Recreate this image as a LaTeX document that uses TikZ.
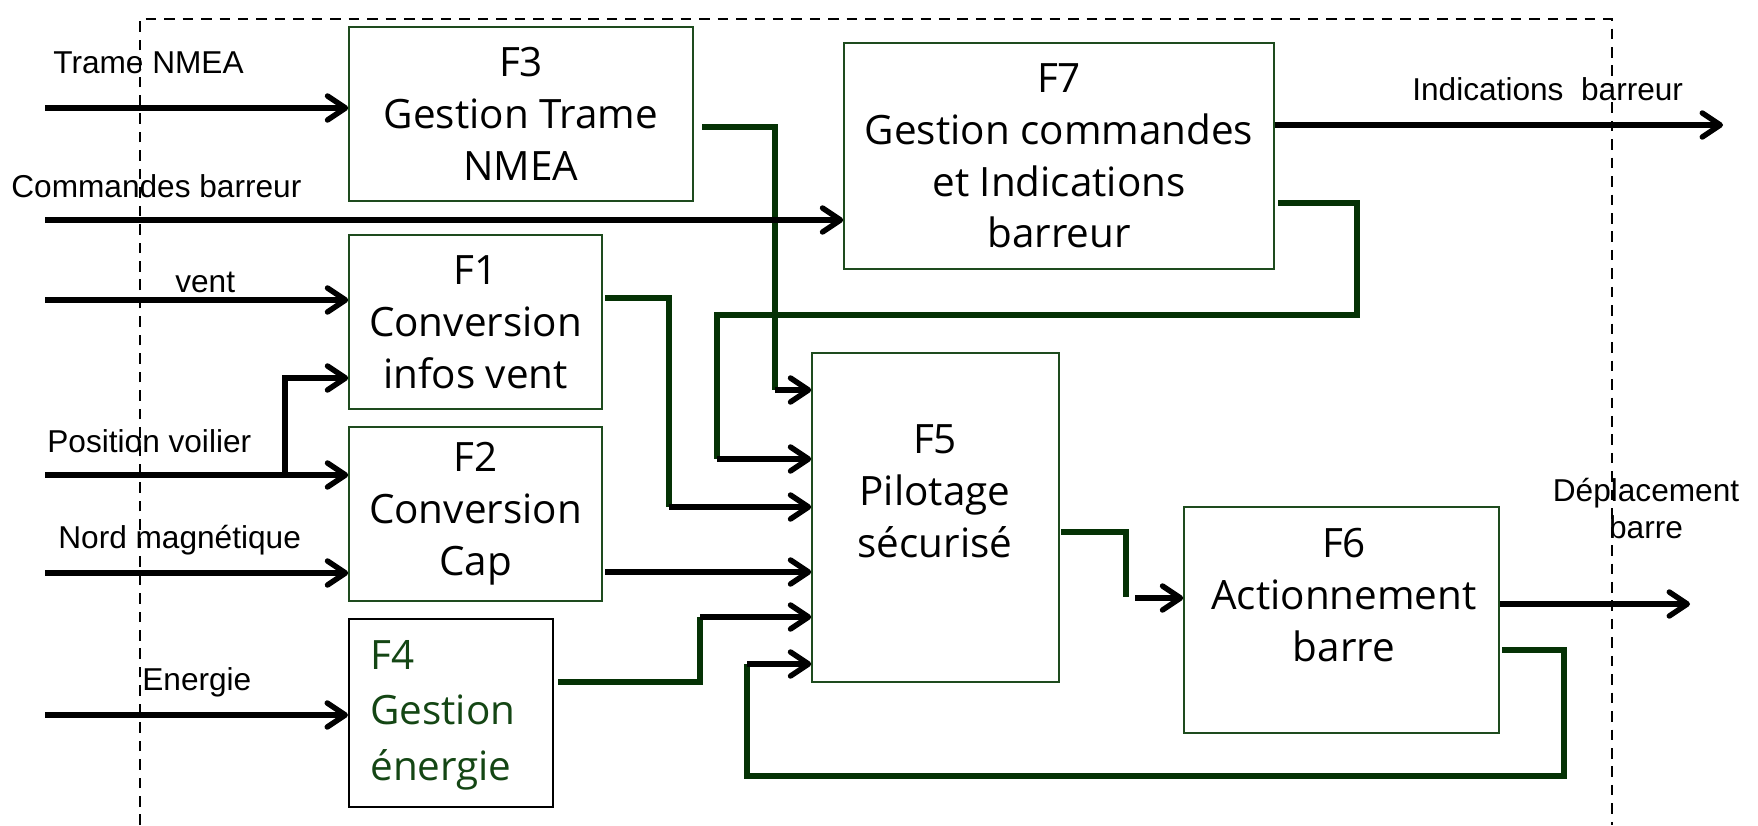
\documentclass[tikz,border=0pt]{standalone}
\usepackage{fontspec}
\setmainfont{Liberation Sans}
\newfontfamily\boxfont{Open Sans}
\usetikzlibrary{arrows.meta}
\definecolor{boxgreen}{RGB}{30,75,30}
\definecolor{linegreen}{RGB}{5,50,5}
\definecolor{txtgreen}{RGB}{20,70,20}

\begin{document}
\begin{tikzpicture}[x=0.02cm,y=-0.02cm,
  fbox/.style={draw=boxgreen,line width=0.9pt,align=center,inner sep=0pt,
    font=\boxfont\fontsize{23}{29.5}\selectfont},
  ftxt/.style={align=center,inner sep=0pt,font=\boxfont\fontsize{23}{29.5}\selectfont},
  lbl/.style={inner sep=0pt,font=\fontsize{18}{21}\selectfont},
  arr/.style={line width=3.1pt,-{Straight Barb[round,length=3.6mm,width=4.8mm]}},
  gline/.style={draw=linegreen,line width=3.5pt}]
  \useasboundingbox (0,0) rectangle (1758,825);

  % blocs
  \node[fbox,minimum width=6.88cm,minimum height=3.48cm] (f3) at (521,114) {F3\\Gestion Trame\\NMEA};
  \node[fbox,minimum width=8.6cm,minimum height=4.52cm] (f7) at (1059,156) {F7\\Gestion commandes\\et Indications\\barreur};
  \node[fbox,minimum width=5.06cm,minimum height=3.48cm] (f1) at (475.5,322) {F1\\Conversion\\infos vent};
  \node[fbox,minimum width=5.06cm,minimum height=3.48cm] (f2) at (475.5,514) {F2\\Conversion\\Cap};
  \node[draw=black,line width=1.2pt,minimum width=4.08cm,minimum height=3.76cm] (f4) at (451,713) {};
  \node[ftxt,align=left,text=txtgreen,anchor=north west,font=\boxfont\fontsize{23}{31.5}\selectfont] (f4t) at (370,640) {F4\\Gestion\\énergie};
  \node[fbox,minimum width=4.94cm,minimum height=6.58cm] (f5) at (935.5,517.5) {};
  \node[ftxt] (f5t) at (935,491) {F5\\Pilotage\\sécurisé};
  \node[fbox,minimum width=6.3cm,minimum height=4.52cm] (f6) at (1341.5,620) {};
  \node[ftxt] (f6t) at (1344,595) {F6\\Actionnement\\barre};

  % flux d'entree / sortie
  \node[lbl,anchor=base west] (lTrame) at (53,73) {Trame NMEA};
  \node[lbl,anchor=base west] (lCmd) at (11,197) {Commandes barreur};
  \node[lbl,anchor=base west] (lVent) at (175,292) {vent};
  \node[lbl,anchor=base west] (lPos) at (47,452) {Position voilier};
  \node[lbl,anchor=base west] (lNord) at (58,548) {Nord magnétique};
  \node[lbl,anchor=base west] (lNrj) at (142,690) {Energie};
  \node[lbl,anchor=base west] (lInd) at (1412,100) {Indications~ barreur};
  \node[lbl,align=center,anchor=north] (lDep) at (1646,478) {Déplacement\\barre};

  \coordinate (inTrame) at (45,108);
  \coordinate (inCmd) at (45,220);
  \coordinate (inVent) at (45,300);
  \coordinate (inPos) at (45,475);
  \coordinate (kPos) at (285,378);
  \coordinate (inNord) at (45,573);
  \coordinate (inNrj) at (45,715);
  \coordinate (outInd) at (1723,125);
  \coordinate (outDep) at (1690,604);

  % liaisons internes (vert)
  \coordinate (s3) at (702,127);  \coordinate (b3) at (775,390);
  \coordinate (s7) at (1278,203); \coordinate (b7a) at (1357,315); \coordinate (b7b) at (717,459);
  \coordinate (s1) at (605,298);  \coordinate (b1) at (669,507);
  \coordinate (s2) at (605,572);
  \coordinate (s4) at (558,682);  \coordinate (b4) at (700,617);
  \coordinate (s6) at (1502,650); \coordinate (b6a) at (1564,776); \coordinate (b6b) at (747,664);
  \coordinate (s5) at (1061,532); \coordinate (b5) at (1126,597); \coordinate (a5) at (1135,598);

  \draw[gline] (s3) -| (b3);
  \draw[gline] (s7) -| (b7a) -| (b7b);
  \draw[gline] (s1) -| (b1);
  \draw[gline] (s4) -| (b4);
  \draw[gline] (s6) -| (b6a) -| (b6b);
  \draw[gline] (s5) -| (b5);

  \draw[arr] (b3) -- (b3 -| f5.west);
  \draw[arr] (b7b) -- (b7b -| f5.west);
  \draw[arr] (b1) -- (b1 -| f5.west);
  \draw[arr] (s2) -- (s2 -| f5.west);
  \draw[arr] (b4) -- (b4 -| f5.west);
  \draw[arr] (b6b) -- (b6b -| f5.west);
  \draw[arr] (a5) -- (a5 -| f6.west);

  \draw[arr] (inTrame) -- (inTrame -| f3.west);
  \draw[arr] (inCmd) -- (inCmd -| f7.west);
  \draw[arr] (inVent) -- (inVent -| f1.west);
  \draw[arr] (inPos) -- (inPos -| f2.west);
  \draw[arr] (inPos -| kPos) -- (kPos) -- (kPos -| f1.west);
  \draw[arr] (inNord) -- (inNord -| f2.west);
  \draw[arr] (inNrj) -- (inNrj -| f4.west);
  \draw[arr] (outInd -| f7.east) -- (outInd);
  \draw[arr] (outDep -| f6.east) -- (outDep);

  % frontiere du systeme
  \draw[line width=1pt,dash pattern=on 6pt off 4.5pt] (140,825) -- (140,19) -- (1612,19) -- (1612,825);
\end{tikzpicture}
\end{document}
